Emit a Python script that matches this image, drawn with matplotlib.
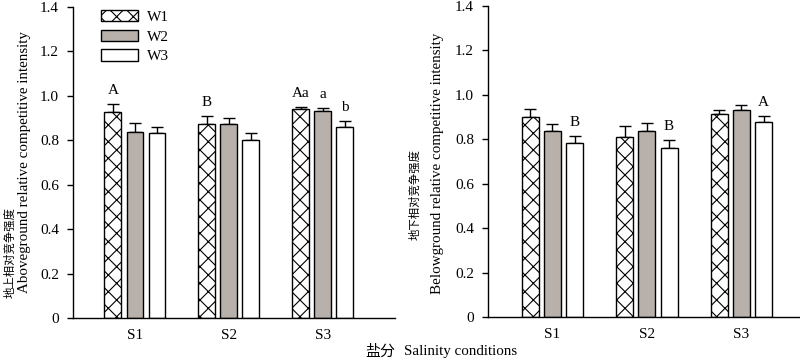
import numpy as np
import matplotlib
matplotlib.use("Agg")
import matplotlib.pyplot as plt
from matplotlib.patches import Patch

plt.rcParams['font.family'] = ['Liberation Serif', 'Noto Sans CJK SC']
plt.rcParams['hatch.linewidth'] = 0.8

# data
groups = ["S1", "S2", "S3"]
series = ["W1", "W2", "W3"]

above_mean = {"W1": [0.929, 0.872, 0.941],
              "W2": [0.839, 0.872, 0.932],
              "W3": [0.832, 0.803, 0.860]}
above_err = {"W1": [0.033, 0.038, 0.008],
             "W2": [0.040, 0.029, 0.015],
             "W3": [0.030, 0.030, 0.027]}
above_letters = {"W1": ["A", "B", "Aa"],
                 "W2": ["", "", "a"],
                 "W3": ["", "", "b"]}

below_mean = {"W1": [0.902, 0.811, 0.916],
              "W2": [0.836, 0.836, 0.932],
              "W3": [0.784, 0.762, 0.879]}
below_err = {"W1": [0.033, 0.048, 0.017],
             "W2": [0.035, 0.038, 0.021],
             "W3": [0.033, 0.035, 0.025]}
below_letters = {"W1": ["", "", ""],
                 "W2": ["", "", ""],
                 "W3": ["B", "B", "A"]}

yticks = [0, 0.2, 0.4, 0.6, 0.8, 1.0, 1.2, 1.4]
yticklabels = ["0", "0.2", "0.4", "0.6", "0.8", "1.0", "1.2", "1.4"]

styles = {"W1": dict(facecolor="white", hatch="xx"),
          "W2": dict(facecolor="#b8b0aa", hatch=None),
          "W3": dict(facecolor="white", hatch=None)}

BAR_W = 0.18
STEP = 0.235
FS = 11


def draw_panel(ax, means, errs, letters, xlim):
    x = np.arange(len(groups))
    for i, s in enumerate(series):
        pos = x + (i - 1) * STEP
        m = np.array(means[s])
        e = np.array(errs[s])
        ax.bar(pos, m, BAR_W, edgecolor="black", linewidth=1.0,
               zorder=2, **styles[s])
        ax.errorbar(pos, m, yerr=[np.zeros_like(e), e], fmt="none",
                    ecolor="black", elinewidth=1.0, capsize=4.3,
                    capthick=1.0, zorder=1)
        for p, top, lab in zip(pos, m + e, letters[s]):
            if lab:
                ax.annotate(lab, (p, top), xytext=(0, 5),
                            textcoords="offset points", ha="center",
                            va="bottom", fontsize=FS)
    ax.set_xlim(*xlim)
    ax.set_ylim(0, 1.4)
    ax.set_yticks(yticks)
    ax.set_yticklabels(yticklabels, fontsize=FS)
    ax.set_xticks(x)
    ax.set_xticklabels(groups, fontsize=FS)
    ax.tick_params(axis="x", length=0, pad=8)
    ax.tick_params(axis="y", direction="out", length=4, width=1, pad=6)
    for side in ["top", "right"]:
        ax.spines[side].set_visible(False)
    for side in ["left", "bottom"]:
        ax.spines[side].set_linewidth(1.0)


fig = plt.figure(figsize=(8, 3.63), dpi=100)
ax1 = fig.add_axes([73 / 800, 1 - 318 / 363, 322 / 800, 311 / 363])
ax2 = fig.add_axes([488 / 800, 1 - 317 / 363, 312 / 800, 311 / 363])

draw_panel(ax1, above_mean, above_err, above_letters, (-0.66, 2.77))
draw_panel(ax2, below_mean, below_err, below_letters, (-0.68, 2.62))

# y labels: Chinese line and English line
cjk = ['Noto Sans CJK SC', 'DejaVu Sans']
fig.text(10 / 800, 1 - 252 / 363, "地上相对竞争强度", rotation=90,
         ha="center", va="center", fontsize=8.2, family=cjk)
fig.text(25 / 800, 1 - 162 / 363, "Aboveground relative competitive intensity",
         rotation=90, ha="center", va="center", fontsize=10.8)
fig.text(415 / 800, 1 - 195 / 363, "地下相对竞争强度", rotation=90,
         ha="center", va="center", fontsize=8.2, family=cjk)
fig.text(437 / 800, 1 - 163 / 363, "Belowground relative competitive intensity",
         rotation=90, ha="center", va="center", fontsize=10.8)

handles = [Patch(edgecolor="black", linewidth=1.0, label=s, **styles[s])
           for s in series]
ax1.legend(handles=handles, loc="upper left", bbox_to_anchor=(0.055, 1.025),
           frameon=False, fontsize=FS, handlelength=2.4,
           handleheight=0.75, labelspacing=0.38, handletextpad=0.6,
           borderpad=0.2)

fig.text(365 / 800, 1 - 352 / 363, "盐分", ha="left", va="center",
         fontsize=10.8, family=cjk)
fig.text(404 / 800, 1 - 352 / 363, "Salinity conditions", ha="left",
         va="center", fontsize=10.8)

fig.savefig("out.png", dpi=100)
